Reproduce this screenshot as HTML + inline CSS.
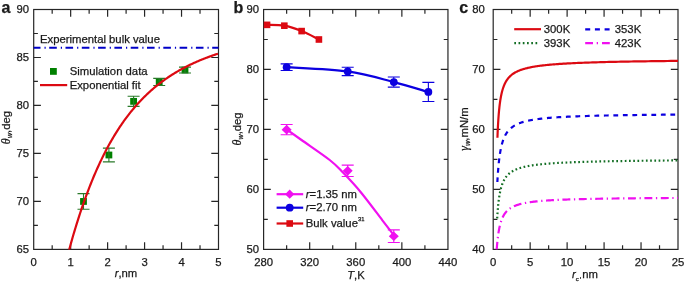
<!DOCTYPE html>
<html><head><meta charset="utf-8"><style>html,body{margin:0;padding:0;background:#fff;width:685px;height:283px;overflow:hidden}body{position:relative}text{stroke:#1a1a1a;stroke-width:0.25px}</style></head>
<body>
<svg width="685" height="283" viewBox="0 0 685 283" style="position:absolute;left:0;top:0;will-change:transform">
<g font-family="Liberation Sans, sans-serif" fill="#1a1a1a">
<rect x="33.7" y="9.5" width="184.8" height="239.9" fill="none" stroke="#262626" stroke-width="1.2"/>
<path d="M70.66 249.4v-7.2M70.66 9.5v7.2M107.62 249.4v-7.2M107.62 9.5v7.2M144.58 249.4v-7.2M144.58 9.5v7.2M181.54 249.4v-7.2M181.54 9.5v7.2M52.18 249.4v-4.2M52.18 9.5v4.2M89.14 249.4v-4.2M89.14 9.5v4.2M126.1 249.4v-4.2M126.1 9.5v4.2M163.06 249.4v-4.2M163.06 9.5v4.2M200.02 249.4v-4.2M200.02 9.5v4.2M33.7 201.42h7.2M218.5 201.42h-7.2M33.7 153.44h7.2M218.5 153.44h-7.2M33.7 105.46h7.2M218.5 105.46h-7.2M33.7 57.48h7.2M218.5 57.48h-7.2M33.7 225.41h4.2M218.5 225.41h-4.2M33.7 177.43h4.2M218.5 177.43h-4.2M33.7 129.45h4.2M218.5 129.45h-4.2M33.7 81.47h4.2M218.5 81.47h-4.2M33.7 33.49h4.2M218.5 33.49h-4.2" stroke="#262626" stroke-width="1.2" fill="none"/>
<text x="33.7" y="265.6" text-anchor="middle" font-size="11.3" >0</text>
<text x="70.66" y="265.6" text-anchor="middle" font-size="11.3" >1</text>
<text x="107.62" y="265.6" text-anchor="middle" font-size="11.3" >2</text>
<text x="144.58" y="265.6" text-anchor="middle" font-size="11.3" >3</text>
<text x="181.54" y="265.6" text-anchor="middle" font-size="11.3" >4</text>
<text x="218.5" y="265.6" text-anchor="middle" font-size="11.3" >5</text>
<text x="29" y="253.3" text-anchor="end" font-size="11.3" >65</text>
<text x="29" y="205.32" text-anchor="end" font-size="11.3" >70</text>
<text x="29" y="157.34" text-anchor="end" font-size="11.3" >75</text>
<text x="29" y="109.36" text-anchor="end" font-size="11.3" >80</text>
<text x="29" y="61.38" text-anchor="end" font-size="11.3" >85</text>
<text x="29" y="13.4" text-anchor="end" font-size="11.3" >90</text>
<line x1="33.7" y1="47.8" x2="218.5" y2="47.8" stroke="#0000c8" stroke-width="2.1" stroke-dasharray="7.6 4 1.2 3.5" stroke-dashoffset="0.8"/>
<text x="40" y="43.2" text-anchor="start" font-size="11.3" >Experimental bulk value</text>
<rect x="50" y="68" width="6.8" height="6.8" fill="#008000"/>
<text x="69.7" y="75.4" text-anchor="start" font-size="11.3" >Simulation data</text>
<line x1="40" y1="85.1" x2="67.2" y2="85.1" stroke="#dc0a12" stroke-width="2.2"/>
<text x="69.7" y="88.8" text-anchor="start" font-size="11.3" >Exponential fit</text>
<rect x="80.1" y="198.05" width="6.8" height="6.8" fill="#008000"/>
<path d="M77.5 193.6h12M77.5 209.3h12M83.5 193.6V209.3" stroke="#2a7a2a" stroke-width="1.1"/>
<rect x="105.5" y="151.6" width="6.8" height="6.8" fill="#008000"/>
<path d="M102.9 148.1h12M102.9 161.9h12M108.9 148.1V161.9" stroke="#2a7a2a" stroke-width="1.1"/>
<rect x="130.2" y="97.95" width="6.8" height="6.8" fill="#008000"/>
<path d="M127.6 96.3h12M127.6 106.4h12M133.6 96.3V106.4" stroke="#2a7a2a" stroke-width="1.1"/>
<rect x="155.8" y="78.55" width="6.8" height="6.8" fill="#008000"/>
<path d="M153.2 78.4h12M153.2 85.5h12M159.2 78.4V85.5" stroke="#2a7a2a" stroke-width="1.1"/>
<rect x="181.6" y="66.65" width="6.8" height="6.8" fill="#008000"/>
<path d="M179 67.1h12M179 73h12M185 67.1V73" stroke="#2a7a2a" stroke-width="1.1"/>
<clipPath id="ca"><rect x="33.7" y="9.5" width="184.8" height="239.9"/></clipPath>
<path d="M66.96 258.08 L67.91 254.47 L68.86 250.92 L69.81 247.43 L70.76 244.01 L71.71 240.64 L72.66 237.32 L73.61 234.06 L74.56 230.86 L75.51 227.71 L76.46 224.62 L77.41 221.58 L78.36 218.59 L79.31 215.65 L80.26 212.75 L81.21 209.91 L82.16 207.12 L83.11 204.37 L84.06 201.67 L85.01 199.01 L85.96 196.4 L86.91 193.83 L87.86 191.31 L88.81 188.83 L89.76 186.39 L90.71 183.99 L91.66 181.63 L92.6 179.31 L93.55 177.03 L94.5 174.79 L95.45 172.58 L96.4 170.41 L97.35 168.28 L98.3 166.18 L99.25 164.12 L100.2 162.09 L101.15 160.1 L102.1 158.14 L103.05 156.21 L104 154.31 L104.95 152.45 L105.9 150.61 L106.85 148.81 L107.8 147.03 L108.75 145.29 L109.7 143.57 L110.65 141.88 L111.6 140.22 L112.55 138.59 L113.5 136.98 L114.45 135.41 L115.4 133.85 L116.35 132.32 L117.3 130.82 L118.25 129.34 L119.2 127.89 L120.15 126.45 L121.1 125.05 L122.05 123.66 L123 122.3 L123.95 120.96 L124.9 119.64 L125.85 118.34 L126.8 117.07 L127.75 115.81 L128.7 114.58 L129.65 113.36 L130.6 112.16 L131.55 110.99 L132.5 109.83 L133.45 108.69 L134.4 107.57 L135.35 106.46 L136.3 105.38 L137.25 104.31 L138.2 103.26 L139.15 102.22 L140.1 101.21 L141.05 100.2 L142 99.22 L142.95 98.24 L143.9 97.29 L144.85 96.35 L145.8 95.42 L146.75 94.51 L147.7 93.61 L148.65 92.73 L149.6 91.86 L150.55 91 L151.5 90.16 L152.45 89.33 L153.4 88.51 L154.35 87.71 L155.3 86.92 L156.25 86.14 L157.2 85.37 L158.15 84.61 L159.1 83.87 L160.05 83.14 L161 82.41 L161.95 81.7 L162.9 81 L163.85 80.31 L164.8 79.63 L165.75 78.96 L166.7 78.3 L167.65 77.66 L168.6 77.02 L169.55 76.38 L170.5 75.76 L171.45 75.15 L172.4 74.55 L173.35 73.96 L174.3 73.37 L175.25 72.79 L176.2 72.22 L177.15 71.66 L178.1 71.11 L179.05 70.57 L180 70.03 L180.95 69.5 L181.9 68.98 L182.85 68.47 L183.8 67.96 L184.75 67.46 L185.7 66.97 L186.65 66.49 L187.6 66.01 L188.55 65.54 L189.5 65.07 L190.45 64.61 L191.4 64.16 L192.35 63.72 L193.3 63.28 L194.25 62.84 L195.2 62.42 L196.15 61.99 L197.1 61.58 L198.05 61.17 L199 60.76 L199.95 60.36 L200.9 59.97 L201.85 59.58 L202.8 59.19 L203.75 58.81 L204.7 58.44 L205.65 58.07 L206.6 57.71 L207.55 57.35 L208.5 56.99 L209.45 56.64 L210.4 56.29 L211.35 55.95 L212.3 55.62 L213.25 55.28 L214.2 54.95 L215.15 54.63 L216.1 54.31 L217.05 53.99 L218 53.68" clip-path="url(#ca)" stroke="#dc0a12" stroke-width="2.2" fill="none"/>
<text transform="translate(9.8 127.6) rotate(-90)" text-anchor="middle" font-size="11.3"><tspan font-style="italic" font-family="Liberation Serif, serif" font-size="12">θ</tspan><tspan font-style="italic" font-size="7" dy="2.4" dx="0.2">w</tspan><tspan dy="-2.4">,deg</tspan></text>
<text x="126" y="277.3" text-anchor="middle" font-size="11.3"><tspan font-style="italic">r</tspan>,nm</text>
<text x="1.5" y="12.6" text-anchor="start" font-size="16" font-weight="bold">a</text>
<rect x="263.6" y="9.5" width="184.35" height="239.9" fill="none" stroke="#262626" stroke-width="1.2"/>
<path d="M309.69 249.4v-7.2M309.69 9.5v7.2M355.77 249.4v-7.2M355.77 9.5v7.2M401.86 249.4v-7.2M401.86 9.5v7.2M286.64 249.4v-4.2M286.64 9.5v4.2M332.73 249.4v-4.2M332.73 9.5v4.2M378.82 249.4v-4.2M378.82 9.5v4.2M424.91 249.4v-4.2M424.91 9.5v4.2M263.6 189.43h7.2M447.95 189.43h-7.2M263.6 129.45h7.2M447.95 129.45h-7.2M263.6 69.47h7.2M447.95 69.47h-7.2M263.6 219.41h4.2M447.95 219.41h-4.2M263.6 159.44h4.2M447.95 159.44h-4.2M263.6 99.46h4.2M447.95 99.46h-4.2M263.6 39.49h4.2M447.95 39.49h-4.2" stroke="#262626" stroke-width="1.2" fill="none"/>
<text x="263.6" y="265.6" text-anchor="middle" font-size="11.3" >280</text>
<text x="309.69" y="265.6" text-anchor="middle" font-size="11.3" >320</text>
<text x="355.77" y="265.6" text-anchor="middle" font-size="11.3" >360</text>
<text x="401.86" y="265.6" text-anchor="middle" font-size="11.3" >400</text>
<text x="447.95" y="265.6" text-anchor="middle" font-size="11.3" >440</text>
<text x="259" y="253.3" text-anchor="end" font-size="11.3" >50</text>
<text x="259" y="193.33" text-anchor="end" font-size="11.3" >60</text>
<text x="259" y="133.35" text-anchor="end" font-size="11.3" >70</text>
<text x="259" y="73.38" text-anchor="end" font-size="11.3" >80</text>
<text x="259" y="13.4" text-anchor="end" font-size="11.3" >90</text>
<clipPath id="cb"><rect x="263.6" y="9.5" width="184.34999999999997" height="239.9"/></clipPath>
<path d="M267.06 24.85 C269.94 24.99 278.58 24.65 284.34 25.69 C290.1 26.73 295.86 28.79 301.62 31.09 C307.38 33.39 316.02 38.09 318.91 39.49" stroke="#dc0a12" stroke-width="2.2" fill="none"/>
<rect x="263.76" y="21.55" width="6.6" height="6.6" fill="#dc0a12"/>
<rect x="281.04" y="22.39" width="6.6" height="6.6" fill="#dc0a12"/>
<rect x="298.32" y="27.79" width="6.6" height="6.6" fill="#dc0a12"/>
<rect x="315.61" y="36.19" width="6.6" height="6.6" fill="#dc0a12"/>
<path d="M286.64 67.2 C296.82 67.91 329.85 68.98 347.71 71.45 C365.57 73.93 380.36 78.65 393.8 82.07 C407.24 85.49 422.6 90.32 428.36 91.97" stroke="#0c00e0" stroke-width="2.2" fill="none"/>
<path d="M280.64 63.9h12M280.64 70.49h12M286.64 63.9V70.49" stroke="#0c00e0" stroke-width="1.1"/>
<circle cx="286.64" cy="67.2" r="3.9" fill="#0c00e0"/>
<path d="M341.71 67.26h12M341.71 75.64h12M347.71 67.26V75.64" stroke="#0c00e0" stroke-width="1.1"/>
<circle cx="347.71" cy="71.45" r="3.9" fill="#0c00e0"/>
<path d="M387.8 76.98h12M387.8 87.16h12M393.8 76.98V87.16" stroke="#0c00e0" stroke-width="1.1"/>
<circle cx="393.8" cy="82.07" r="3.9" fill="#0c00e0"/>
<path d="M422.36 82.39h12M422.36 101.54h12M428.36 82.39V101.54" stroke="#0c00e0" stroke-width="1.1"/>
<circle cx="428.36" cy="91.97" r="3.9" fill="#0c00e0"/>
<path d="M286.6 129.3 C289.08 131.08 294.32 134.88 301.5 140 C308.68 145.12 322.78 154.57 329.7 160 C336.62 165.43 337.75 167.15 343 172.6 C348.25 178.05 354.63 184.75 361.2 192.7 C367.77 200.65 376.9 213.13 382.4 220.3 C387.9 227.47 392.23 233.13 394.2 235.7" stroke="#f010f0" stroke-width="2.2" fill="none"/>
<path d="M280.64 124.54h12M280.64 134.72h12M286.64 124.54V134.72" stroke="#f010f0" stroke-width="1.1"/>
<path d="M286.64 124.83L291.64 129.63L286.64 134.43L281.64 129.63Z" fill="#f010f0"/>
<path d="M341.71 165.15h12M341.71 176.52h12M347.71 165.15V176.52" stroke="#f010f0" stroke-width="1.1"/>
<path d="M347.71 166.03L352.71 170.83L347.71 175.63L342.71 170.83Z" fill="#f010f0"/>
<path d="M387.8 229.92h12M387.8 242.49h12M393.8 229.92V242.49" stroke="#f010f0" stroke-width="1.1"/>
<path d="M393.8 231.41L398.8 236.21L393.8 241.01L388.8 236.21Z" fill="#f010f0"/>
<line x1="276.6" y1="194.2" x2="303.2" y2="194.2" stroke="#f010f0" stroke-width="2.2"/>
<path d="M289.7 189.6L294.3 194.2L289.7 198.79999999999998L285.1 194.2Z" fill="#f010f0"/>
<line x1="276.6" y1="207.7" x2="303.2" y2="207.7" stroke="#0c00e0" stroke-width="2.2"/>
<circle cx="289.7" cy="207.7" r="3.9" fill="#0c00e0"/>
<line x1="276.6" y1="223.5" x2="303.2" y2="223.5" stroke="#dc0a12" stroke-width="2.2"/>
<rect x="286.4" y="220.2" width="6.6" height="6.6" fill="#dc0a12"/>
<text x="305.8" y="197.5" font-size="11.3"><tspan font-style="italic">r</tspan>=1.35 nm</text>
<text x="305.8" y="211.4" font-size="11.3"><tspan font-style="italic">r</tspan>=2.70 nm</text>
<text x="305.8" y="226.9" font-size="11.3">Bulk value<tspan font-size="5.8" dy="-5.5">31</tspan></text>
<text transform="translate(240.7 128.95) rotate(-90)" text-anchor="middle" font-size="11.3"><tspan font-style="italic" font-family="Liberation Serif, serif" font-size="12">θ</tspan><tspan font-style="italic" font-size="7" dy="2.4" dx="0.2">w</tspan><tspan dy="-2.4">,deg</tspan></text>
<text x="356" y="278.5" text-anchor="middle" font-size="11.3"><tspan font-style="italic">T</tspan>,K</text>
<text x="233.5" y="12.6" text-anchor="start" font-size="16" font-weight="bold">b</text>
<rect x="493.2" y="9.5" width="184.8" height="239.9" fill="none" stroke="#262626" stroke-width="1.2"/>
<path d="M530.16 249.4v-7.2M530.16 9.5v7.2M567.12 249.4v-7.2M567.12 9.5v7.2M604.08 249.4v-7.2M604.08 9.5v7.2M641.04 249.4v-7.2M641.04 9.5v7.2M511.68 249.4v-4.2M511.68 9.5v4.2M548.64 249.4v-4.2M548.64 9.5v4.2M585.6 249.4v-4.2M585.6 9.5v4.2M622.56 249.4v-4.2M622.56 9.5v4.2M659.52 249.4v-4.2M659.52 9.5v4.2M493.2 189.43h7.2M678 189.43h-7.2M493.2 129.45h7.2M678 129.45h-7.2M493.2 69.47h7.2M678 69.47h-7.2M493.2 219.41h4.2M678 219.41h-4.2M493.2 159.44h4.2M678 159.44h-4.2M493.2 99.46h4.2M678 99.46h-4.2M493.2 39.49h4.2M678 39.49h-4.2" stroke="#262626" stroke-width="1.2" fill="none"/>
<text x="493.2" y="265.6" text-anchor="middle" font-size="11.3" >0</text>
<text x="530.16" y="265.6" text-anchor="middle" font-size="11.3" >5</text>
<text x="567.12" y="265.6" text-anchor="middle" font-size="11.3" >10</text>
<text x="604.08" y="265.6" text-anchor="middle" font-size="11.3" >15</text>
<text x="641.04" y="265.6" text-anchor="middle" font-size="11.3" >20</text>
<text x="678" y="265.6" text-anchor="middle" font-size="11.3" >25</text>
<text x="484.8" y="253.3" text-anchor="end" font-size="11.3" >40</text>
<text x="484.8" y="193.33" text-anchor="end" font-size="11.3" >50</text>
<text x="484.8" y="133.35" text-anchor="end" font-size="11.3" >60</text>
<text x="484.8" y="73.38" text-anchor="end" font-size="11.3" >70</text>
<text x="484.8" y="13.4" text-anchor="end" font-size="11.3" >80</text>
<clipPath id="cc"><rect x="493.2" y="9.5" width="184.8" height="239.9"/></clipPath>
<path d="M497.44 137.70 L497.49 136.43 L497.54 135.17 L497.59 133.94 L497.64 132.73 L497.69 131.54 L497.75 130.36 L497.80 129.21 L497.86 128.07 L497.91 126.95 L497.97 125.85 L498.03 124.77 L498.09 123.70 L498.15 122.66 L498.22 121.63 L498.28 120.61 L498.34 119.61 L498.41 118.63 L498.48 117.66 L498.55 116.71 L498.62 115.78 L498.69 114.86 L498.76 113.95 L498.84 113.06 L498.91 112.19 L498.99 111.32 L499.07 110.47 L499.15 109.64 L499.23 108.82 L499.32 108.01 L499.40 107.21 L499.49 106.43 L499.58 105.66 L499.67 104.91 L499.76 104.16 L499.86 103.43 L499.96 102.71 L500.05 102.00 L500.15 101.30 L500.26 100.61 L500.36 99.93 L500.47 99.27 L500.58 98.61 L500.69 97.97 L500.80 97.34 L500.92 96.71 L501.03 96.10 L501.15 95.50 L501.28 94.90 L501.40 94.32 L501.53 93.74 L501.66 93.18 L501.79 92.62 L501.93 92.08 L502.06 91.54 L502.20 91.01 L502.35 90.49 L502.49 89.97 L502.64 89.47 L502.79 88.97 L502.95 88.48 L503.11 88.00 L503.27 87.53 L503.43 87.06 L503.60 86.61 L503.77 86.15 L503.95 85.71 L504.12 85.28 L504.31 84.85 L504.49 84.42 L504.68 84.01 L504.87 83.60 L505.07 83.20 L505.27 82.80 L505.47 82.41 L505.68 82.03 L505.89 81.65 L506.11 81.28 L506.33 80.92 L506.56 80.56 L506.79 80.21 L507.02 79.86 L507.26 79.52 L507.51 79.18 L507.76 78.85 L508.01 78.52 L508.27 78.20 L508.53 77.89 L508.80 77.58 L509.08 77.27 L509.36 76.97 L509.64 76.68 L509.94 76.39 L510.23 76.10 L510.54 75.82 L510.85 75.54 L511.16 75.27 L511.48 75.00 L511.81 74.74 L512.15 74.48 L512.49 74.22 L512.84 73.97 L513.19 73.73 L513.55 73.48 L513.92 73.24 L514.30 73.01 L514.68 72.78 L515.08 72.55 L515.48 72.32 L515.88 72.10 L516.30 71.89 L516.72 71.67 L517.16 71.46 L517.60 71.26 L518.05 71.05 L518.51 70.85 L518.98 70.66 L519.45 70.46 L519.94 70.27 L520.44 70.08 L520.94 69.90 L521.46 69.72 L521.99 69.54 L522.53 69.36 L523.07 69.19 L523.63 69.02 L524.20 68.85 L524.79 68.69 L525.38 68.53 L525.98 68.37 L526.60 68.21 L527.23 68.06 L527.87 67.90 L528.53 67.75 L529.20 67.61 L529.88 67.46 L530.57 67.32 L531.28 67.18 L532.00 67.04 L532.74 66.91 L533.49 66.77 L534.26 66.64 L535.04 66.51 L535.84 66.39 L536.65 66.26 L537.48 66.14 L538.33 66.02 L539.19 65.90 L540.08 65.78 L540.97 65.67 L541.89 65.55 L542.82 65.44 L543.78 65.33 L544.75 65.22 L545.74 65.12 L546.75 65.01 L547.78 64.91 L548.83 64.81 L549.91 64.71 L551.00 64.61 L552.12 64.52 L553.26 64.42 L554.42 64.33 L555.60 64.24 L556.81 64.15 L558.04 64.06 L559.30 63.97 L560.58 63.88 L561.89 63.80 L563.22 63.72 L564.58 63.63 L565.96 63.55 L567.38 63.47 L568.82 63.40 L570.29 63.32 L571.79 63.24 L573.32 63.17 L574.89 63.10 L576.48 63.02 L578.10 62.95 L579.76 62.88 L581.45 62.81 L583.17 62.75 L584.93 62.68 L586.72 62.62 L588.55 62.55 L590.41 62.49 L592.31 62.43 L594.25 62.36 L596.23 62.30 L598.25 62.25 L600.31 62.19 L602.41 62.13 L604.55 62.07 L606.73 62.02 L608.96 61.96 L611.23 61.91 L613.54 61.86 L615.91 61.80 L618.32 61.75 L620.78 61.70 L623.28 61.65 L625.84 61.60 L628.45 61.56 L631.11 61.51 L633.82 61.46 L636.59 61.42 L639.41 61.37 L642.29 61.33 L645.22 61.29 L648.22 61.24 L651.27 61.20 L654.39 61.16 L657.56 61.12 L660.80 61.08 L664.11 61.04 L667.48 61.00 L670.92 60.96 L674.42 60.92 L678.00 60.89" clip-path="url(#cc)" stroke="#dc0a12" stroke-width="2.2" fill="none" />
<path d="M497.37 182.00 L497.43 180.80 L497.50 179.62 L497.57 178.46 L497.64 177.32 L497.71 176.20 L497.78 175.11 L497.85 174.03 L497.93 172.96 L498.00 171.92 L498.08 170.90 L498.16 169.89 L498.24 168.90 L498.32 167.93 L498.40 166.97 L498.49 166.04 L498.57 165.11 L498.66 164.21 L498.75 163.32 L498.84 162.44 L498.93 161.58 L499.03 160.74 L499.12 159.91 L499.22 159.09 L499.32 158.29 L499.42 157.51 L499.52 156.73 L499.63 155.97 L499.73 155.23 L499.84 154.49 L499.95 153.77 L500.06 153.06 L500.18 152.37 L500.30 151.68 L500.41 151.01 L500.53 150.35 L500.66 149.70 L500.78 149.06 L500.91 148.44 L501.04 147.82 L501.17 147.22 L501.31 146.62 L501.44 146.04 L501.58 145.47 L501.73 144.90 L501.87 144.35 L502.02 143.81 L502.17 143.27 L502.32 142.74 L502.47 142.23 L502.63 141.72 L502.79 141.22 L502.96 140.73 L503.12 140.25 L503.29 139.78 L503.47 139.31 L503.64 138.86 L503.82 138.41 L504.00 137.97 L504.19 137.54 L504.38 137.11 L504.57 136.69 L504.77 136.28 L504.97 135.88 L505.17 135.48 L505.38 135.09 L505.59 134.71 L505.80 134.33 L506.02 133.96 L506.24 133.60 L506.47 133.24 L506.70 132.89 L506.93 132.55 L507.17 132.21 L507.42 131.88 L507.66 131.55 L507.92 131.23 L508.17 130.91 L508.43 130.60 L508.70 130.30 L508.97 130.00 L509.25 129.71 L509.53 129.42 L509.81 129.13 L510.10 128.85 L510.40 128.58 L510.70 128.31 L511.01 128.04 L511.32 127.78 L511.64 127.53 L511.96 127.28 L512.29 127.03 L512.63 126.79 L512.97 126.55 L513.32 126.32 L513.67 126.09 L514.03 125.86 L514.40 125.64 L514.77 125.42 L515.15 125.21 L515.54 125.00 L515.94 124.79 L516.34 124.59 L516.75 124.39 L517.16 124.19 L517.59 124.00 L518.02 123.81 L518.46 123.62 L518.91 123.44 L519.36 123.26 L519.83 123.08 L520.30 122.91 L520.78 122.74 L521.27 122.57 L521.77 122.40 L522.27 122.24 L522.79 122.08 L523.32 121.93 L523.85 121.77 L524.40 121.62 L524.95 121.48 L525.51 121.33 L526.09 121.19 L526.68 121.05 L527.27 120.91 L527.88 120.77 L528.50 120.64 L529.13 120.51 L529.77 120.38 L530.42 120.25 L531.08 120.13 L531.76 120.01 L532.45 119.89 L533.15 119.77 L533.86 119.65 L534.58 119.54 L535.32 119.43 L536.08 119.32 L536.84 119.21 L537.62 119.10 L538.42 119.00 L539.23 118.90 L540.05 118.79 L540.89 118.70 L541.74 118.60 L542.61 118.50 L543.49 118.41 L544.39 118.32 L545.31 118.23 L546.24 118.14 L547.19 118.05 L548.16 117.96 L549.15 117.88 L550.15 117.80 L551.17 117.72 L552.21 117.64 L553.27 117.56 L554.34 117.48 L555.44 117.40 L556.56 117.33 L557.69 117.26 L558.85 117.18 L560.03 117.11 L561.23 117.04 L562.45 116.97 L563.69 116.91 L564.96 116.84 L566.25 116.78 L567.56 116.71 L568.90 116.65 L570.26 116.59 L571.64 116.53 L573.05 116.47 L574.49 116.41 L575.95 116.35 L577.44 116.30 L578.95 116.24 L580.49 116.19 L582.06 116.13 L583.66 116.08 L585.29 116.03 L586.95 115.98 L588.63 115.93 L590.35 115.88 L592.10 115.83 L593.88 115.78 L595.69 115.74 L597.54 115.69 L599.41 115.65 L601.33 115.60 L603.27 115.56 L605.26 115.52 L607.27 115.48 L609.33 115.43 L611.42 115.39 L613.55 115.35 L615.72 115.32 L617.92 115.28 L620.17 115.24 L622.46 115.20 L624.79 115.17 L627.16 115.13 L629.58 115.10 L632.03 115.06 L634.54 115.03 L637.08 114.99 L639.68 114.96 L642.32 114.93 L645.01 114.90 L647.75 114.87 L650.53 114.84 L653.37 114.81 L656.26 114.78 L659.20 114.75 L662.20 114.72 L665.24 114.69 L668.35 114.66 L671.51 114.64 L674.72 114.61 L678.00 114.58" clip-path="url(#cc)" stroke="#0c00e0" stroke-width="2.2" fill="none" stroke-dasharray="4.8 4.7" stroke-dashoffset="0.2"/>
<path d="M497.07 219.90 L497.13 218.91 L497.19 217.93 L497.25 216.97 L497.31 216.02 L497.37 215.09 L497.43 214.18 L497.49 213.28 L497.56 212.39 L497.62 211.52 L497.69 210.66 L497.76 209.82 L497.83 208.99 L497.90 208.17 L497.97 207.37 L498.04 206.58 L498.12 205.80 L498.19 205.04 L498.27 204.29 L498.35 203.55 L498.43 202.82 L498.51 202.10 L498.60 201.40 L498.68 200.71 L498.77 200.02 L498.86 199.35 L498.95 198.69 L499.04 198.04 L499.14 197.41 L499.23 196.78 L499.33 196.16 L499.43 195.55 L499.53 194.95 L499.63 194.36 L499.74 193.79 L499.85 193.22 L499.95 192.66 L500.07 192.11 L500.18 191.56 L500.29 191.03 L500.41 190.51 L500.53 189.99 L500.65 189.48 L500.78 188.98 L500.91 188.49 L501.04 188.01 L501.17 187.53 L501.30 187.06 L501.44 186.60 L501.58 186.15 L501.72 185.70 L501.87 185.27 L502.01 184.84 L502.16 184.41 L502.32 183.99 L502.47 183.58 L502.63 183.18 L502.79 182.78 L502.96 182.39 L503.13 182.01 L503.30 181.63 L503.47 181.26 L503.65 180.89 L503.83 180.53 L504.02 180.18 L504.21 179.83 L504.40 179.49 L504.60 179.15 L504.79 178.82 L505.00 178.49 L505.21 178.17 L505.42 177.85 L505.63 177.54 L505.85 177.24 L506.07 176.94 L506.30 176.64 L506.53 176.35 L506.77 176.06 L507.01 175.78 L507.26 175.50 L507.51 175.23 L507.76 174.96 L508.02 174.70 L508.29 174.44 L508.56 174.18 L508.83 173.93 L509.11 173.68 L509.40 173.44 L509.69 173.20 L509.98 172.97 L510.29 172.74 L510.59 172.51 L510.91 172.28 L511.23 172.06 L511.55 171.85 L511.88 171.63 L512.22 171.42 L512.57 171.22 L512.92 171.01 L513.28 170.81 L513.64 170.62 L514.01 170.42 L514.39 170.23 L514.78 170.05 L515.17 169.86 L515.57 169.68 L515.98 169.50 L516.39 169.33 L516.82 169.16 L517.25 168.99 L517.69 168.82 L518.14 168.66 L518.60 168.49 L519.06 168.33 L519.54 168.18 L520.02 168.02 L520.51 167.87 L521.02 167.72 L521.53 167.58 L522.05 167.43 L522.58 167.29 L523.12 167.15 L523.67 167.02 L524.24 166.88 L524.81 166.75 L525.39 166.62 L525.99 166.49 L526.60 166.36 L527.21 166.24 L527.84 166.12 L528.48 166.00 L529.14 165.88 L529.80 165.76 L530.48 165.65 L531.18 165.53 L531.88 165.42 L532.60 165.31 L533.33 165.21 L534.08 165.10 L534.84 165.00 L535.61 164.90 L536.40 164.79 L537.21 164.70 L538.03 164.60 L538.86 164.50 L539.71 164.41 L540.58 164.32 L541.46 164.23 L542.37 164.14 L543.28 164.05 L544.22 163.96 L545.17 163.88 L546.14 163.79 L547.13 163.71 L548.14 163.63 L549.17 163.55 L550.22 163.47 L551.28 163.39 L552.37 163.32 L553.48 163.24 L554.61 163.17 L555.76 163.10 L556.93 163.02 L558.13 162.95 L559.35 162.88 L560.59 162.82 L561.85 162.75 L563.14 162.68 L564.45 162.62 L565.79 162.56 L567.15 162.49 L568.54 162.43 L569.96 162.37 L571.40 162.31 L572.87 162.25 L574.37 162.20 L575.90 162.14 L577.45 162.08 L579.04 162.03 L580.65 161.98 L582.30 161.92 L583.98 161.87 L585.69 161.82 L587.43 161.77 L589.20 161.72 L591.01 161.67 L592.85 161.62 L594.73 161.57 L596.65 161.53 L598.60 161.48 L600.58 161.44 L602.61 161.39 L604.67 161.35 L606.78 161.31 L608.92 161.26 L611.10 161.22 L613.33 161.18 L615.60 161.14 L617.91 161.10 L620.26 161.06 L622.66 161.02 L625.11 160.99 L627.60 160.95 L630.14 160.91 L632.73 160.88 L635.36 160.84 L638.05 160.81 L640.79 160.77 L643.58 160.74 L646.42 160.71 L649.32 160.67 L652.27 160.64 L655.28 160.61 L658.34 160.58 L661.47 160.55 L664.65 160.52 L667.89 160.49 L671.20 160.46 L674.57 160.43 L678.00 160.40" clip-path="url(#cc)" stroke="#136e24" stroke-width="2.2" fill="none" stroke-dasharray="1.7 2.53" stroke-dashoffset="-1.5"/>
<path d="M496.62 251.00 L496.68 250.03 L496.75 249.08 L496.82 248.14 L496.89 247.22 L496.97 246.32 L497.04 245.43 L497.11 244.56 L497.19 243.71 L497.27 242.87 L497.35 242.05 L497.43 241.24 L497.51 240.44 L497.59 239.66 L497.68 238.89 L497.77 238.14 L497.85 237.40 L497.94 236.67 L498.04 235.96 L498.13 235.26 L498.22 234.57 L498.32 233.90 L498.42 233.23 L498.52 232.58 L498.62 231.94 L498.72 231.32 L498.83 230.70 L498.93 230.09 L499.04 229.50 L499.15 228.91 L499.27 228.34 L499.38 227.78 L499.50 227.22 L499.62 226.68 L499.74 226.14 L499.86 225.62 L499.99 225.11 L500.12 224.60 L500.25 224.10 L500.38 223.62 L500.52 223.14 L500.65 222.67 L500.79 222.21 L500.94 221.75 L501.08 221.31 L501.23 220.87 L501.38 220.44 L501.53 220.02 L501.69 219.60 L501.85 219.20 L502.01 218.80 L502.17 218.41 L502.34 218.02 L502.51 217.64 L502.68 217.27 L502.86 216.91 L503.04 216.55 L503.22 216.19 L503.41 215.85 L503.60 215.51 L503.79 215.18 L503.99 214.85 L504.19 214.53 L504.39 214.21 L504.60 213.90 L504.81 213.60 L505.02 213.30 L505.24 213.00 L505.46 212.72 L505.69 212.43 L505.92 212.15 L506.16 211.88 L506.40 211.61 L506.64 211.35 L506.89 211.09 L507.14 210.84 L507.39 210.59 L507.65 210.34 L507.92 210.10 L508.19 209.87 L508.47 209.63 L508.75 209.41 L509.03 209.18 L509.32 208.96 L509.62 208.75 L509.92 208.53 L510.23 208.33 L510.54 208.12 L510.85 207.92 L511.18 207.72 L511.51 207.53 L511.84 207.34 L512.18 207.15 L512.53 206.97 L512.88 206.79 L513.24 206.61 L513.61 206.44 L513.98 206.27 L514.36 206.10 L514.75 205.94 L515.14 205.78 L515.54 205.62 L515.95 205.46 L516.36 205.31 L516.78 205.16 L517.21 205.01 L517.65 204.87 L518.09 204.72 L518.55 204.58 L519.01 204.45 L519.48 204.31 L519.96 204.18 L520.44 204.05 L520.94 203.92 L521.44 203.80 L521.96 203.67 L522.48 203.55 L523.01 203.43 L523.55 203.32 L524.10 203.20 L524.66 203.09 L525.23 202.98 L525.81 202.87 L526.41 202.76 L527.01 202.66 L527.62 202.56 L528.25 202.46 L528.88 202.36 L529.53 202.26 L530.19 202.16 L530.86 202.07 L531.54 201.98 L532.23 201.89 L532.94 201.80 L533.66 201.71 L534.39 201.63 L535.14 201.54 L535.90 201.46 L536.67 201.38 L537.46 201.30 L538.26 201.22 L539.07 201.14 L539.90 201.07 L540.75 200.99 L541.61 200.92 L542.48 200.85 L543.37 200.78 L544.28 200.71 L545.20 200.64 L546.14 200.57 L547.10 200.51 L548.07 200.45 L549.06 200.38 L550.07 200.32 L551.10 200.26 L552.14 200.20 L553.21 200.14 L554.29 200.08 L555.40 200.03 L556.52 199.97 L557.66 199.92 L558.82 199.86 L560.01 199.81 L561.21 199.76 L562.44 199.71 L563.69 199.66 L564.96 199.61 L566.26 199.56 L567.57 199.52 L568.92 199.47 L570.28 199.42 L571.67 199.38 L573.09 199.33 L574.53 199.29 L575.99 199.25 L577.48 199.21 L579.00 199.17 L580.55 199.13 L582.12 199.09 L583.73 199.05 L585.36 199.01 L587.02 198.97 L588.71 198.94 L590.43 198.90 L592.18 198.87 L593.96 198.83 L595.78 198.80 L597.63 198.76 L599.51 198.73 L601.42 198.70 L603.37 198.67 L605.36 198.64 L607.38 198.61 L609.43 198.58 L611.52 198.55 L613.65 198.52 L615.82 198.49 L618.03 198.46 L620.28 198.43 L622.56 198.41 L624.89 198.38 L627.26 198.35 L629.68 198.33 L632.13 198.30 L634.63 198.28 L637.18 198.25 L639.77 198.23 L642.41 198.21 L645.09 198.19 L647.82 198.16 L650.60 198.14 L653.44 198.12 L656.32 198.10 L659.25 198.08 L662.24 198.06 L665.28 198.04 L668.38 198.02 L671.53 198.00 L674.74 197.98 L678.00 197.96" clip-path="url(#cc)" stroke="#f010f0" stroke-width="2.2" fill="none" stroke-dasharray="7.9 3.6 1.3 3.6" stroke-dashoffset="-1.3"/>
<line x1="514.2" y1="29.2" x2="541" y2="29.2" stroke="#dc0a12" stroke-width="2.2"/>
<line x1="585.2" y1="29.3" x2="609.6" y2="29.3" stroke="#0c00e0" stroke-width="2.2" stroke-dasharray="5 4.7"/>
<line x1="514.3" y1="43.1" x2="538" y2="43.1" stroke="#136e24" stroke-width="2.2" stroke-dasharray="1.7 2.54"/>
<line x1="585.2" y1="43.1" x2="609.8" y2="43.1" stroke="#f010f0" stroke-width="2.2" stroke-dasharray="7.8 3.7 1.3 4"/>
<text x="543.8" y="33.1" text-anchor="start" font-size="11.3" >300K</text>
<text x="614.8" y="33.1" text-anchor="start" font-size="11.3" >353K</text>
<text x="543.8" y="47.1" text-anchor="start" font-size="11.3" >393K</text>
<text x="614.8" y="47.1" text-anchor="start" font-size="11.3" >423K</text>
<text transform="translate(468 129) rotate(-90)" text-anchor="middle" font-size="11.3"><tspan font-style="italic" font-family="Liberation Serif, serif" font-size="12">γ</tspan><tspan font-style="italic" font-size="7" dy="2.4" dx="0.2">w</tspan><tspan dy="-2.4">,mN/m</tspan></text>
<text x="585" y="277.7" text-anchor="middle" font-size="11.3"><tspan font-style="italic">r</tspan><tspan font-style="italic" font-size="6.2" dy="3.4">c</tspan><tspan font-size="7" dy="-3.4" dx="0.5">,</tspan><tspan dx="0.8">nm</tspan></text>
<text x="459.3" y="12.6" text-anchor="start" font-size="16" font-weight="bold">c</text>
</g></svg>
</body></html>
